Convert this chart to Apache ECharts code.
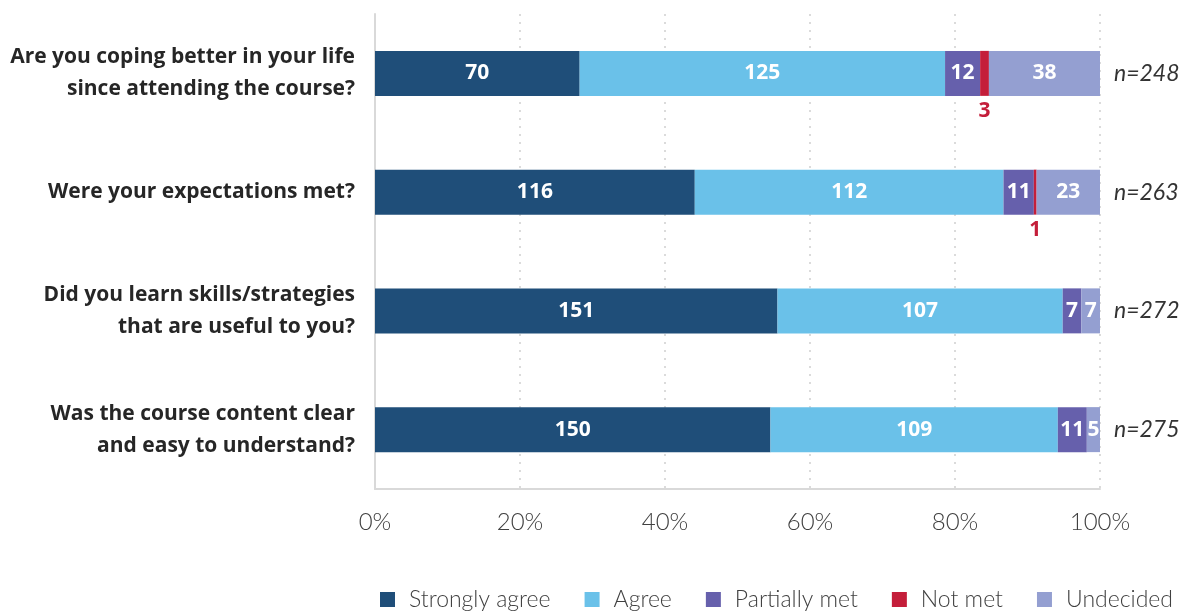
<!DOCTYPE html>
<html>
<head>
<meta charset="utf-8">
<script src="https://cdn.jsdelivr.net/npm/echarts@6/dist/echarts.min.js"></script>
<style>
  html, body { margin: 0; padding: 0; background: #fff; }
  #chart { width: 1186px; height: 612px; }
</style>
</head>
<body>
<div id="chart"></div>
<script>
// Survey questions, top to bottom
const questions = [
  'Are you coping better in your life\nsince attending the course?',
  'Were your expectations met?',
  'Did you learn skills/strategies\nthat are useful to you?',
  'Was the course content clear\nand easy to understand?'
];
const seriesNames = ['Strongly agree', 'Agree', 'Partially met', 'Not met', 'Undecided'];
const stronglyAgree = [70, 116, 151, 150];
const agree = [125, 112, 107, 109];
const partiallyMet = [12, 11, 7, 11];
const notMet = [3, 1, 0, 0];
const undecided = [38, 23, 7, 5];
const xTickLabels = ['0%', '20%', '40%', '60%', '80%', '100%'];

const colors = ['#1F4E79', '#6AC1E9', '#6660AC', '#C41E3A', '#949FD1'];
const BOLD_FONT = '"Open Sans", "Noto Sans", sans-serif';
const LIGHT_FONT = 'Lato, "Open Sans", sans-serif';

const counts = [stronglyAgree, agree, partiallyMet, notMet, undecided];
const totals = questions.map((_, i) => counts.reduce((s, arr) => s + arr[i], 0));

// One stacked bar series per answer; widths are shares of each question's total
const series = counts.map((arr, k) => {
  const isNotMet = k === 3;
  return {
    name: seriesNames[k],
    type: 'bar',
    stack: 'all',
    barWidth: 45,
    itemStyle: { color: colors[k] },
    data: arr.map((v, i) => ({ value: v / totals[i] * 100, count: v })),
    label: {
      show: true,
      position: isNotMet ? 'bottom' : 'inside',
      distance: isNotMet ? 5 : 0,
      color: isNotMet ? '#C41E3A' : '#ffffff',
      fontFamily: BOLD_FONT,
      fontWeight: 'bold',
      fontSize: 21,
      formatter: p => (p.data.count > 0 ? String(p.data.count) : '')
    },
    emphasis: { disabled: true }
  };
});

const legendText = { color: '#404040', fontFamily: LIGHT_FONT, fontWeight: 300, fontSize: 23, padding: [0, 0, 0, 9] };

const chart = echarts.init(document.getElementById('chart'));
chart.setOption({
  animation: false,
  color: colors,
  grid: { left: 375, right: 86, top: 14, bottom: 123, containLabel: false },
  xAxis: {
    type: 'value',
    min: 0,
    max: 100,
    interval: 20,
    axisLine: { show: true, lineStyle: { color: '#D9D9D9', width: 2 } },
    axisTick: { show: false },
    splitLine: { show: true, lineStyle: { color: '#CFCFCF', type: [2, 6], width: 1.5 } },
    axisLabel: {
      color: '#404040',
      fontFamily: LIGHT_FONT,
      fontWeight: 300,
      fontSize: 24,
      margin: 21,
      formatter: v => xTickLabels[Math.round(v / 20)]
    }
  },
  yAxis: [
    {
      type: 'category',
      inverse: true,
      data: questions,
      axisLine: { show: true, lineStyle: { color: '#D9D9D9', width: 2 } },
      axisTick: { show: false },
      axisLabel: {
        color: '#262626',
        fontFamily: BOLD_FONT,
        fontWeight: 'bold',
        fontSize: 21,
        lineHeight: 32,
        margin: 20,
        align: 'right'
      }
    },
    {
      type: 'category',
      inverse: true,
      position: 'right',
      data: totals.map(t => 'n=' + t),
      axisLine: { show: false },
      axisTick: { show: false },
      axisLabel: {
        color: '#333333',
        fontFamily: LIGHT_FONT,
        fontStyle: 'italic',
        fontSize: 23,
        margin: 14,
        align: 'left'
      }
    }
  ],
  legend: {
    data: seriesNames.map(name => ({
      name,
      textStyle: name === 'Not met' ? Object.assign({}, legendText, { padding: [0, 14, 0, 9] }) : legendText
    })),
    left: 375,
    top: 583,
    icon: 'rect',
    itemWidth: 15,
    itemHeight: 15,
    itemGap: 34,
    textStyle: legendText
  },
  series: series
});
</script>
</body>
</html>
